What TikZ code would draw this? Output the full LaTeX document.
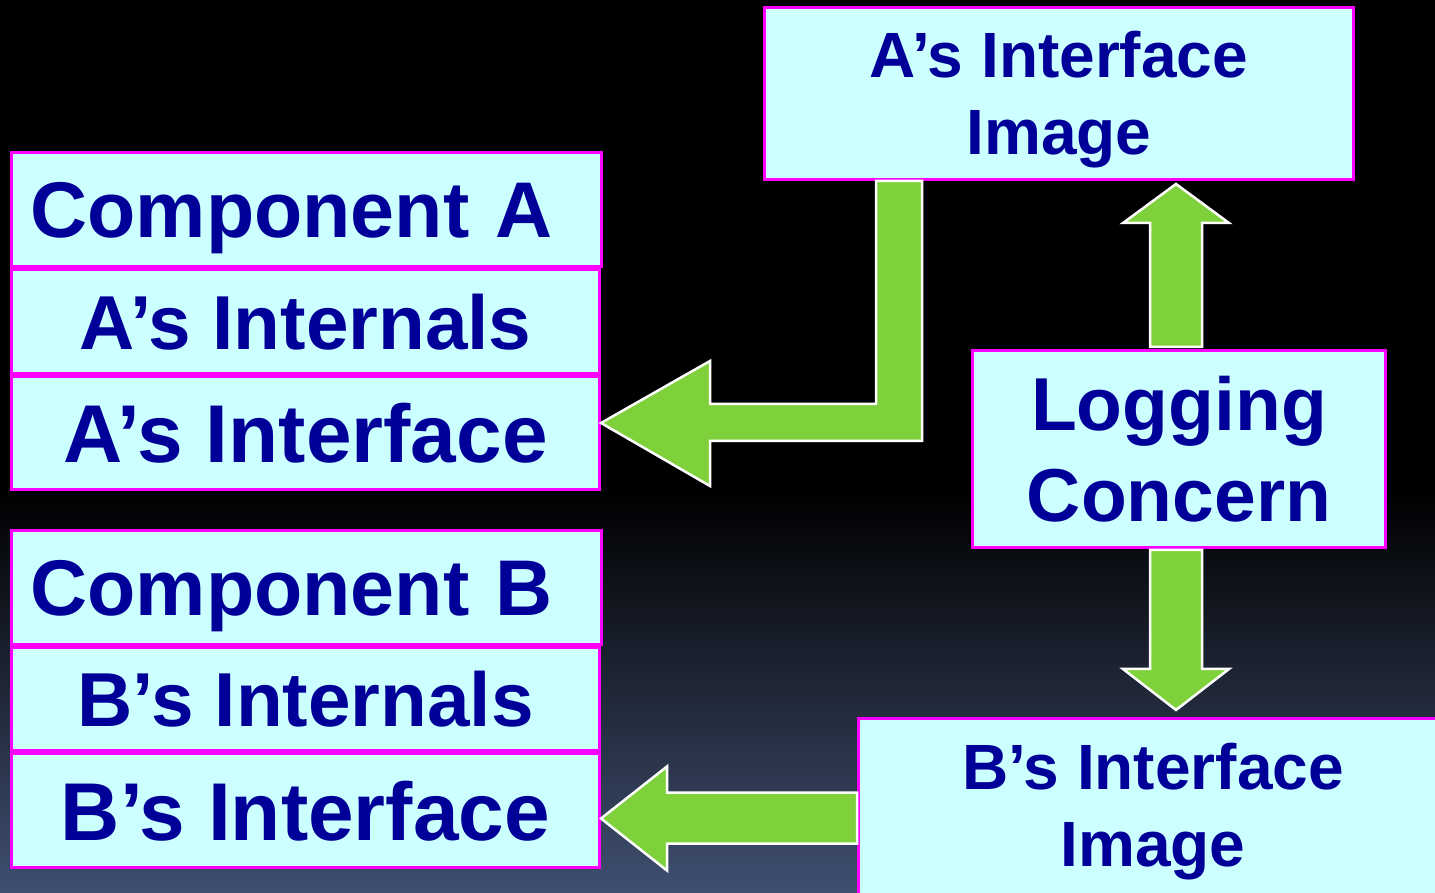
\documentclass[tikz,border=0pt]{standalone}
\usepackage{fontspec}
\setmainfont{Liberation Sans}
\usetikzlibrary{calc}
\definecolor{boxfill}{HTML}{CCFFFF}
\definecolor{boxline}{HTML}{FF00FF}
\definecolor{boxtext}{HTML}{000099}
\definecolor{arrowgreen}{HTML}{7FD13B}
\definecolor{bgbottom}{HTML}{3F4F70}
\newcommand{\headfont}{\fontsize{79}{95}\selectfont\bfseries}
\newcommand{\partfont}{\fontsize{76.5}{92}\selectfont\bfseries}
\newcommand{\facefont}{\fontsize{82}{98}\selectfont\bfseries}
\newcommand{\imgfont}{\fontsize{64}{77}\selectfont\bfseries}
\newcommand{\logfont}{\fontsize{75}{91}\selectfont\bfseries}

\begin{document}
\begin{tikzpicture}[x=1pt,y=1pt,
  box/.style={draw=boxline,line width=3pt,fill=boxfill,text=boxtext,inner sep=0pt,anchor=north west},
  head box/.style={box,font=\headfont,text width=552,inner xsep=19,align=left,text height=57,text depth=0pt,minimum height=114},
  part box/.style={box,minimum width=588,text depth=0pt},
  image box/.style={box,font=\imgfont,align=center,minimum width=589,minimum height=172},
  block arrow/.style={fill=arrowgreen,draw=white,line width=2.5pt}]

\useasboundingbox (0,0) rectangle (1435,892);
\fill[black] (0,0) rectangle (1435,892);
\shade[top color=black,bottom color=bgbottom] (0,0) rectangle (1435,400);

% component A
\node[head box] (compa) at (10,741) {Component A};
\node[part box,font=\partfont,minimum height=104,text height=56] (aint) at (10,624) {A’s Internals};
\node[part box,font=\facefont,minimum height=113,text height=59] (aiface) at (10,517) {A’s Interface};

% component B
\node[head box] (compb) at (10,363) {Component B};
\node[part box,font=\partfont,minimum height=103,text height=56] (bint) at (10,246) {B’s Internals};
\node[part box,font=\facefont,minimum height=114,text height=59] (biface) at (10,140) {B’s Interface};

% the aspect and the two images
\node[image box,text height=136] (aimg) at (763,886) {A’s Interface\\Image};
\node[box,font=\logfont,align=center,minimum width=413,minimum height=197] (logging) at (971,543) {Logging\\Concern};
\node[image box,minimum height=177,text height=133] (bimg) at (857,175) {B’s Interface\\Image};

% elbow arrow from A's image back to A's interface
\draw[block arrow] ([xshift=-183]aimg.south) -- ++(0,-223) -- ++(-166,0) -- ++(0,43)
  -- ([yshift=10]aiface.east) -- ++(109,-63) -- ++(0,45) -- ++(212,0)
  -- ([xshift=-137]aimg.south) -- cycle;

% logging concern up and down
\draw[block arrow] ([xshift=-29,yshift=2]logging.north) -- ++(0,124) -- ++(-27,0)
  -- ++(53,39) -- ++(53,-39) -- ++(-27,0) -- ++(0,-124) -- cycle;
\draw[block arrow] ([xshift=-29,yshift=-1]logging.south) -- ++(0,-119) -- ++(-27,0)
  -- ++(53,-41) -- ++(53,41) -- ++(-27,0) -- ++(0,119) -- cycle;

% B's image to B's interface
\draw[block arrow] ([yshift=-8]biface.east) -- ++(66,52) -- ++(0,-26) -- ++(190,0)
  -- ++(0,-51) -- ++(-190,0) -- ++(0,-27) -- cycle;
\end{tikzpicture}
\end{document}
